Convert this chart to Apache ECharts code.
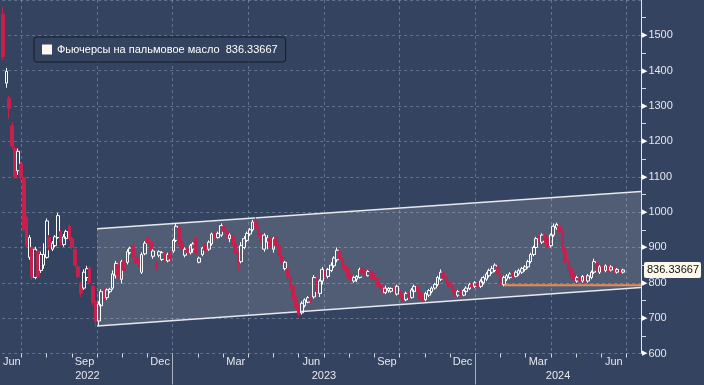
<!DOCTYPE html>
<html><head><meta charset="utf-8">
<script src="https://cdn.jsdelivr.net/npm/echarts@6/dist/echarts.min.js"></script>
<style>html,body{margin:0;padding:0;background:#34435f;}#c{width:704px;height:385px;}</style>
</head><body><div id="c"></div>
<script>
const seriesName = 'Фьючерсы на пальмовое масло';
const lastValue = 836.33667;
const axisStart = '2022-06-08';
const axisEnd = '2024-07-19';
const monthNames = ['Jan','Feb','Mar','Apr','May','Jun','Jul','Aug','Sep','Oct','Nov','Dec'];

const dates = [
'2022-06-09','2022-06-13','2022-06-16','2022-06-20','2022-06-23','2022-06-27','2022-06-30',
'2022-07-04','2022-07-07','2022-07-11','2022-07-14','2022-07-18','2022-07-21','2022-07-25','2022-07-28',
'2022-08-01','2022-08-04','2022-08-08','2022-08-11','2022-08-15','2022-08-18','2022-08-22','2022-08-25','2022-08-29',
'2022-09-01','2022-09-05','2022-09-08','2022-09-12','2022-09-15','2022-09-19','2022-09-22','2022-09-26','2022-09-29',
'2022-10-03','2022-10-06','2022-10-10','2022-10-13','2022-10-17','2022-10-20','2022-10-24','2022-10-27','2022-10-31',
'2022-11-03','2022-11-07','2022-11-10','2022-11-14','2022-11-17','2022-11-21','2022-11-24','2022-11-28',
'2022-12-01','2022-12-05','2022-12-08','2022-12-12','2022-12-15','2022-12-19','2022-12-22','2022-12-26','2022-12-29',
'2023-01-02','2023-01-05','2023-01-09','2023-01-12','2023-01-16','2023-01-19','2023-01-23','2023-01-26','2023-01-30',
'2023-02-02','2023-02-06','2023-02-09','2023-02-13','2023-02-16','2023-02-20','2023-02-23','2023-02-27',
'2023-03-02','2023-03-06','2023-03-09','2023-03-13','2023-03-16','2023-03-20','2023-03-23','2023-03-27','2023-03-30',
'2023-04-03','2023-04-06','2023-04-10','2023-04-13','2023-04-17','2023-04-20','2023-04-24','2023-04-27',
'2023-05-01','2023-05-04','2023-05-08','2023-05-11','2023-05-15','2023-05-18','2023-05-22','2023-05-25','2023-05-29',
'2023-06-01','2023-06-05','2023-06-08','2023-06-12','2023-06-15','2023-06-19','2023-06-22','2023-06-26','2023-06-29',
'2023-07-03','2023-07-06','2023-07-10','2023-07-13','2023-07-17','2023-07-20','2023-07-24','2023-07-27','2023-07-31',
'2023-08-03','2023-08-07','2023-08-10','2023-08-14','2023-08-17','2023-08-21','2023-08-24','2023-08-28','2023-08-31',
'2023-09-04','2023-09-07','2023-09-11','2023-09-14','2023-09-18','2023-09-21','2023-09-25','2023-09-28',
'2023-10-02','2023-10-05','2023-10-09','2023-10-12','2023-10-16','2023-10-19','2023-10-23','2023-10-26','2023-10-30',
'2023-11-02','2023-11-06','2023-11-09','2023-11-13','2023-11-16','2023-11-20','2023-11-23','2023-11-27','2023-11-30',
'2023-12-04','2023-12-07','2023-12-11','2023-12-14','2023-12-18','2023-12-21','2023-12-25','2023-12-28',
'2024-01-01','2024-01-04','2024-01-08','2024-01-11','2024-01-15','2024-01-18','2024-01-22','2024-01-25','2024-01-29',
'2024-02-01','2024-02-05','2024-02-08','2024-02-12','2024-02-15','2024-02-19','2024-02-22','2024-02-26','2024-02-29',
'2024-03-04','2024-03-07','2024-03-11','2024-03-14','2024-03-18','2024-03-21','2024-03-25','2024-03-28',
'2024-04-01','2024-04-04','2024-04-08','2024-04-11','2024-04-15','2024-04-18','2024-04-22','2024-04-25','2024-04-29',
'2024-05-02','2024-05-06','2024-05-09','2024-05-13','2024-05-16','2024-05-20','2024-05-23','2024-05-27','2024-05-30',
'2024-06-03','2024-06-06','2024-06-10','2024-06-13','2024-06-17','2024-06-20','2024-06-24','2024-06-27'
];

// [open, close, low, high]
const ohlc = [
[1560,1440,1430,1580],[1365,1398,1352,1408],[1322,1294,1265,1330],[1244,1187,1178,1255],[1180,1100,1095,1186],[1117,1172,1105,1180],[1136,1097,1090,1142],
[1097,950,945,1100],[985,905,898,990],[872,928,865,935],[900,815,808,905],[815,895,810,902],[890,818,812,895],[835,880,828,888],[850,880,840,912],
[872,975,868,982],[928,900,892,935],[895,912,890,918],[905,930,900,935],[928,990,925,998],[945,915,905,950],[908,930,902,938],[925,945,920,950],[960,925,918,965],
[925,900,895,930],[895,850,842,900],[845,818,812,850],[800,770,760,805],[785,830,780,838],[815,840,805,848],[842,800,795,848],[790,745,735,795],[745,690,676,750],
[692,740,680,748],[735,775,720,782],[770,755,750,785],[758,780,752,784],[775,782,770,786],[785,825,780,835],[820,855,812,862],[852,818,812,858],[810,860,798,865],
[862,835,825,868],[858,888,852,895],[885,898,880,902],[905,875,870,908],[872,856,850,878],[868,850,845,872],[830,880,825,886],[882,912,878,918],
[928,912,906,932],[915,895,890,920],[875,890,868,895],[858,840,835,862],[878,888,872,892],[866,885,862,890],[885,868,862,890],[862,880,858,885],[882,868,860,888],
[890,920,885,925],[920,960,915,968],[955,915,905,960],[915,895,880,920],[878,895,872,900],[898,885,880,902],[885,905,880,910],[895,910,885,915],[925,885,880,930],
[858,870,855,874],[880,898,875,902],[905,892,888,912],[895,915,890,920],[910,938,905,942],[940,928,922,945],[928,940,925,945],[935,962,930,968],
[960,945,940,965],[945,930,922,950],[925,935,915,940],[930,910,905,935],[910,885,875,915],[885,860,835,890],[860,905,855,915],[900,925,895,932],[920,940,915,945],
[938,950,932,955],[950,972,945,978],[975,955,950,985],[955,935,928,960],[938,915,905,942],[895,935,888,940],[915,928,895,935],[928,900,892,932],
[895,925,885,930],[928,905,880,932],[905,880,875,912],[875,858,850,880],[840,858,835,862],[840,815,805,845],[815,790,780,820],[790,760,752,795],[760,730,720,765],
[735,712,702,740],[715,742,710,748],[735,752,730,756],[745,758,742,762],[760,748,742,765],[760,815,755,822],[812,775,768,818],[770,805,760,810],[805,838,795,845],
[835,815,808,840],[818,838,812,842],[835,850,830,858],[848,870,842,875],[865,892,858,900],[890,868,862,895],[865,850,840,870],[850,838,832,855],[840,815,808,845],
[818,808,802,825],[805,815,800,820],[810,818,802,822],[815,838,812,843],[840,828,818,845],[835,820,815,841],[820,832,818,836],[832,815,810,836],[825,810,805,830],
[812,795,788,816],[798,785,780,802],[788,772,768,795],[772,785,768,792],[778,784,772,788],[776,784,772,787],[785,772,768,790],[768,790,764,795],
[775,760,755,780],[762,752,745,768],[752,770,748,775],[770,758,752,775],[758,780,755,785],[775,790,770,795],[790,775,770,795],[775,755,750,780],[760,752,745,768],
[752,770,748,775],[765,778,760,782],[775,785,770,790],[785,795,780,800],[795,815,790,820],[810,830,805,838],[828,815,810,833],[815,800,795,820],[800,790,785,805],
[792,778,772,797],[778,765,760,782],[765,775,760,780],[775,765,760,780],[765,778,762,782],[775,785,770,790],[783,795,780,800],[795,788,782,800],
[790,800,785,805],[800,790,785,805],[790,805,785,810],[800,815,795,820],[810,825,805,830],[820,835,815,840],[830,840,825,848],[835,850,830,855],[845,825,820,850],
[820,800,793,825],[795,815,790,820],[810,820,805,825],[815,825,810,830],[828,818,812,833],[818,830,815,835],[825,835,820,840],[830,840,825,845],[838,845,832,850],
[845,860,840,865],[860,880,855,885],[880,900,875,905],[900,925,895,930],[935,915,910,945],[915,935,910,940],[935,920,910,940],[925,900,895,930],
[905,935,900,940],[935,960,930,968],[955,965,950,970],[960,945,940,965],[945,895,890,950],[895,860,855,900],[860,840,835,865],[840,820,815,845],[822,810,805,828],
[805,815,800,820],[815,805,800,820],[805,818,800,822],[818,805,798,822],[805,820,800,825],[815,830,810,835],[830,860,825,868],[855,835,830,862],[830,845,825,850],
[845,835,830,850],[835,848,830,852],[848,838,832,852],[836,845,832,850],[842,832,828,846],[830,838,826,842],[835,830,826,840],[830,836.34,826,840]
];

const channelDates = ['2022-10-01', '2024-07-19'];
const channelTop = [953, 1058];
const channelBottom = [678, 787];
const supportDates = ['2024-02-05', '2024-07-19'];
const supportLevel = [793, 793];

// date -> months since 2022-06-01 (axis unit)
function toM(s) {
  const p = s.split('-').map(Number);
  const dim = new Date(p[0], p[1], 0).getDate();
  return (p[0] - 2022) * 12 + (p[1] - 6) + (p[2] - 1) / dim;
}
const xMin = toM(axisStart), xMax = toM(axisEnd);

const monthBounds = [], quarterBounds = [], monthLabelVals = [];
for (let k = 1; k <= 25; k++) { monthBounds.push(k); if ((k - 1) % 3 === 0) quarterBounds.push(k); }
for (let k = 0; k <= 25; k++) {
  const m = (5 + k) % 12 + 1;
  const a = Math.max(k, xMin), b = Math.min(k + 1, xMax);
  if (m % 3 === 0 && b > a) monthLabelVals.push((a + b) / 2);
}
const yearBounds = [7, 19];
const yearLabelVals = [(xMin + 7) / 2, 13, (19 + xMax) / 2];

const FONT = 'Liberation Sans, Arial, sans-serif';
const txt = '#e4e7ee';
const gridLine = { color: 'rgba(165,180,205,0.42)', type: [3, 3], width: 1 };
const baseX = { type: 'value', min: xMin, max: xMax, position: 'bottom', gridIndex: 0,
  axisLine: { show: false, onZero: false }, splitLine: { show: false },
  axisTick: { show: false }, axisLabel: { show: false } };

const chart = echarts.init(document.getElementById('c'), null, { renderer: 'canvas' });
chart.setOption({
  backgroundColor: '#34435f',
  animation: false,
  grid: { left: 0, right: 62, top: -1.5, bottom: 31.5 },
  legend: {
    left: 34, top: 37, padding: [7, 8, 7, 8], itemWidth: 10, itemHeight: 10,
    backgroundColor: '#34435f', borderColor: '#161c2b', borderWidth: 1, borderRadius: 3,
    selectedMode: false,
    textStyle: { color: '#ffffff', fontSize: 11, fontFamily: FONT },
    data: [{ name: seriesName, icon: 'rect', itemStyle: { color: '#fff6f0', borderWidth: 0 } }],
    formatter: n => n + '  ' + lastValue
  },
  xAxis: [
    Object.assign({}, baseX, {
      axisTick: { show: true, customValues: monthBounds, length: 4, lineStyle: { color: '#d3d7df' } },
      axisLabel: { show: true, customValues: monthLabelVals, margin: 3, color: txt, fontSize: 11, fontFamily: FONT,
        formatter: v => monthNames[(5 + Math.floor(v)) % 12] }
    }),
    Object.assign({}, baseX, {
      axisTick: { show: false, customValues: quarterBounds },
      splitLine: { show: true, lineStyle: gridLine }
    }),
    Object.assign({}, baseX, {
      axisTick: { show: true, customValues: yearBounds, length: 31, lineStyle: { color: '#aab2c2' } },
      axisLabel: { show: true, customValues: yearLabelVals, margin: 17, color: txt, fontSize: 11, fontFamily: FONT,
        formatter: v => String(2022 + Math.floor((v + 5) / 12)) }
    })
  ],
  yAxis: [
    {
      type: 'value', position: 'right', min: 600, max: 1600, interval: 100,
      axisLine: { show: true, lineStyle: { color: '#e4e7ee' } },
      axisTick: { show: false },
      minorTick: { show: true, splitNumber: 2, length: 5, lineStyle: { color: '#d3d7df' } },
      splitLine: { show: true, lineStyle: gridLine },
      axisLabel: {
        margin: 1,
        formatter: v => v >= 1600 ? '' : '{t|▶}{v|' + v + '}',
        rich: {
          t: { fontSize: 7, color: '#ffffff', padding: [0, 1, 0, 0], fontFamily: 'DejaVu Sans' },
          v: { fontSize: 11, color: txt, fontFamily: FONT }
        }
      }
    },
    {
      type: 'value', position: 'right', min: 600, max: 1600,
      axisLine: { show: false }, axisTick: { show: false }, splitLine: { show: false },
      axisLabel: {
        customValues: [lastValue], margin: 3,
        formatter: v => String(v),
        color: '#111111', backgroundColor: '#fdf8ea', padding: [3, 2, 2, 3], borderRadius: 2,
        fontSize: 11, fontFamily: FONT
      }
    }
  ],
  series: [
    {
      type: 'custom', silent: true, z: 1, clip: true,
      data: [[toM(channelDates[0]), channelTop[0]]],
      renderItem: (params, api) => ({
        type: 'polygon',
        shape: { points: [
          api.coord([toM(channelDates[0]), channelTop[0]]),
          api.coord([toM(channelDates[1]), channelTop[1]]),
          api.coord([toM(channelDates[1]), channelBottom[1]]),
          api.coord([toM(channelDates[0]), channelBottom[0]])
        ] },
        style: { fill: 'rgba(255,255,255,0.14)' }
      })
    },
    {
      type: 'line', silent: true, z: 3, symbol: 'none',
      data: channelDates.map((d, i) => [toM(d), channelTop[i]]),
      lineStyle: { color: '#e6e9f0', width: 1.5 }
    },
    {
      type: 'line', silent: true, z: 3, symbol: 'none',
      data: channelDates.map((d, i) => [toM(d), channelBottom[i]]),
      lineStyle: { color: '#e6e9f0', width: 1.5 }
    },
    {
      type: 'candlestick', name: seriesName, silent: true, z: 4, barWidth: 3.2,
      dimensions: ['t', 'open', 'close', 'lowest', 'highest'],
      encode: { x: 't', y: ['open', 'close', 'lowest', 'highest'] },
      data: dates.map((d, i) => [toM(d)].concat(ohlc[i])),
      itemStyle: { color: 'rgba(0,0,0,0)', color0: '#c8204c', borderColor: '#ffffff', borderColor0: '#c8204c', borderWidth: 1 }
    },
    {
      type: 'line', silent: true, z: 5, symbol: 'none',
      data: supportDates.map((d, i) => [toM(d), supportLevel[i]]),
      lineStyle: { color: '#f08a4c', width: 2 }
    }
  ]
});
</script></body></html>
